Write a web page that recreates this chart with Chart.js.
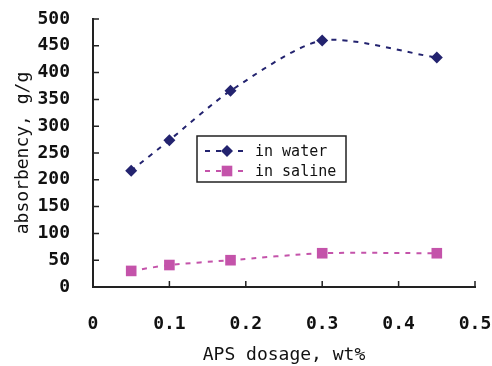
<!DOCTYPE html>
<html>
<head>
<meta charset="utf-8">
<script src="https://cdn.jsdelivr.net/npm/chart.js@4/dist/chart.umd.min.js"></script>
<style>
  html, body { margin: 0; padding: 0; background: #fff; }
  #wrap { width: 492px; height: 366px; position: relative; }
</style>
</head>
<body>
<div id="wrap"><canvas id="chart"></canvas></div>
<script>
const dosage = [0.05, 0.1, 0.18, 0.3, 0.45];
const inWater = [217, 274, 366, 460, 428];
const inSaline = [30, 41, 50, 63, 63];
const seriesNames = ['in water', 'in saline'];
const xTicks = [0, 0.1, 0.2, 0.3, 0.4, 0.5];

const waterColor = '#23236f';
const salineColor = '#c453aa';
const monoFont = '"DejaVu Sans Mono", monospace';

function toPoints(ys) {
    return dosage.map((x, i) => ({ x: x, y: ys[i] }));
}

// small tick marks pointing into the plot, like the original figure
const innerTicks = {
    id: 'innerTicks',
    afterDraw(chart) {
        const ctx = chart.ctx;
        const xs = chart.scales.x, ys = chart.scales.y;
        const len = 6;
        ctx.save();
        ctx.strokeStyle = '#222';
        ctx.lineWidth = 1.5;
        ctx.beginPath();
        xTicks.forEach(v => {
            if (v === 0) return;
            const px = xs.getPixelForValue(v);
            ctx.moveTo(px, ys.bottom);
            ctx.lineTo(px, ys.bottom - len);
        });
        for (let v = 50; v <= 500; v += 50) {
            const py = ys.getPixelForValue(v);
            ctx.moveTo(xs.left, py);
            ctx.lineTo(xs.left + len, py);
        }
        ctx.stroke();
        ctx.restore();
    }
};

// boxed legend sitting inside the plot
const boxLegend = {
    id: 'boxLegend',
    afterDraw(chart) {
        const ctx = chart.ctx;
        const left = 197, top = 136, w = 149, h = 46;
        ctx.save();
        ctx.fillStyle = '#fff';
        ctx.fillRect(left, top, w, h);
        ctx.strokeStyle = '#222';
        ctx.lineWidth = 1.5;
        ctx.strokeRect(left, top, w, h);
        chart.data.datasets.forEach((ds, i) => {
            const y = top + 15 + i * 20;
            ctx.strokeStyle = ds.borderColor;
            ctx.lineWidth = 2;
            ctx.setLineDash([5, 6]);
            ctx.beginPath();
            ctx.moveTo(left + 8, y);
            ctx.lineTo(left + 52, y);
            ctx.stroke();
            ctx.setLineDash([]);
            ctx.fillStyle = ds.pointBackgroundColor;
            ctx.strokeStyle = ds.pointBackgroundColor;
            Chart.helpers.drawPoint(ctx, {
                pointStyle: ds.pointStyle,
                radius: ds.pointRadius,
                borderWidth: 0
            }, left + 30, y);
            ctx.fillStyle = '#111';
            ctx.font = '15px ' + monoFont;
            ctx.textBaseline = 'middle';
            ctx.fillText(ds.label, left + 58, y + 1);
        });
        ctx.restore();
    }
};

new Chart(document.getElementById('chart'), {
    type: 'line',
    data: {
        datasets: [
            {
                label: seriesNames[0],
                data: toPoints(inWater),
                borderColor: waterColor,
                borderWidth: 2,
                borderDash: [5, 6],
                tension: 0.25,
                pointStyle: 'rectRot',
                pointRadius: 6,
                pointBorderWidth: 0,
                pointBackgroundColor: waterColor
            },
            {
                label: seriesNames[1],
                data: toPoints(inSaline),
                borderColor: salineColor,
                borderWidth: 2,
                borderDash: [5, 6],
                tension: 0.25,
                pointStyle: 'rect',
                pointRadius: 7.5,
                pointBorderWidth: 0,
                pointBackgroundColor: salineColor
            }
        ]
    },
    options: {
        responsive: true,
        maintainAspectRatio: false,
        animation: false,
        layout: { padding: { top: 19, right: 17, left: 9, bottom: 0 } },
        plugins: {
            legend: { display: false },
            tooltip: { enabled: false }
        },
        scales: {
            x: {
                type: 'linear',
                min: 0,
                max: 0.5,
                afterBuildTicks(scale) {
                    scale.ticks = xTicks.map(v => ({ value: v }));
                },
                afterFit(scale) {
                    scale.height = 79;
                    scale.paddingLeft = 0;
                    scale.paddingRight = 0;
                },
                border: { display: true, color: '#222', width: 2 },
                grid: { display: false },
                ticks: {
                    color: '#111',
                    padding: 19,
                    maxRotation: 0,
                    font: { family: monoFont, size: 18, weight: 'bold' },
                    callback: v => v === 0 ? '0' : v.toFixed(1)
                },
                title: {
                    display: true,
                    text: 'APS dosage, wt%',
                    color: '#111',
                    font: { family: monoFont, size: 18 },
                    padding: { top: 4, bottom: 0 }
                }
            },
            y: {
                min: 0,
                max: 500,
                ticks: {
                    stepSize: 50,
                    color: '#111',
                    padding: 15,
                    font: { family: monoFont, size: 18, weight: 'bold' }
                },
                afterFit(scale) {
                    scale.width = 84;
                    scale.paddingTop = 0;
                    scale.paddingBottom = 0;
                },
                border: { display: true, color: '#222', width: 2 },
                grid: { display: false },
                title: {
                    display: true,
                    text: 'absorbency, g/g',
                    color: '#111',
                    font: { family: monoFont, size: 18 },
                    padding: { bottom: 0 }
                }
            }
        }
    },
    plugins: [innerTicks, boxLegend]
});
</script>
</body>
</html>
